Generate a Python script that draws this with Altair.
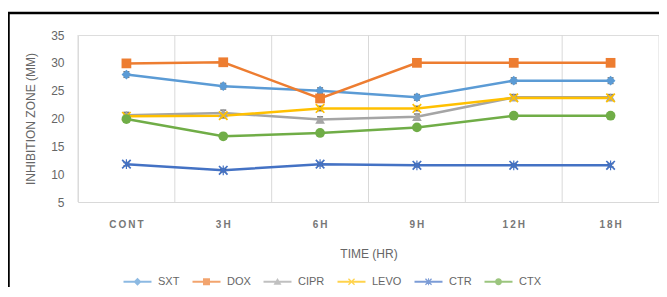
import altair as alt
import pandas as pd

times = ["CONT", "3H", "6H", "9H", "12H", "18H"]
series_names = ["SXT", "DOX", "CIPR", "LEVO", "CTR", "CTX"]
sxt = [27.9, 25.8, 25.0, 23.8, 26.8, 26.8]
dox = [29.9, 30.1, 23.6, 30.0, 30.0, 30.0]
cipr = [20.6, 21.0, 19.8, 20.3, 23.8, 23.8]
levo = [20.4, 20.5, 21.8, 21.8, 23.7, 23.7]
ctr = [11.8, 10.7, 11.8, 11.6, 11.6, 11.6]
ctx = [19.9, 16.8, 17.4, 18.4, 20.5, 20.5]
errors = [0.5, 0.6, 0.5, 0.4, 0.3, 0.3]

colors = ["#5B9BD5", "#ED7D31", "#A5A5A5", "#FFC000", "#4472C4", "#70AD47"]

# plot markers (unit coordinates)
X_PATH = "M-0.75,-1L0,-0.25L0.75,-1L1,-0.75L0.25,0L1,0.75L0.75,1L0,0.25L-0.75,1L-1,0.75L-0.25,0L-1,-0.75Z"
AST_PATH = X_PATH + "M-0.12,-1L0.12,-1L0.12,1L-0.12,1Z"
shapes = ["diamond", "square", "triangle-up", X_PATH, AST_PATH, "circle"]

# legend symbols: short line segment with a marker in the middle
SEG = "M-3,-0.22L3,-0.22L3,0.22L-3,0.22Z"
LX = ("M-0.56,-0.75L0,-0.19L0.56,-0.75L0.75,-0.56L0.19,0L0.75,0.56L0.56,0.75"
      "L0,0.19L-0.56,0.75L-0.75,0.56L-0.19,0L-0.75,-0.56Z")
legend_shapes = [
    SEG + "M0,-0.85L0.85,0L0,0.85L-0.85,0Z",
    SEG + "M-0.75,-0.75L0.75,-0.75L0.75,0.75L-0.75,0.75Z",
    SEG + "M0,-0.8L0.85,0.65L-0.85,0.65Z",
    SEG + LX,
    SEG + LX + "M-0.1,-0.75L0.1,-0.75L0.1,0.75L-0.1,0.75Z",
    SEG + "M-0.75,0A0.75,0.75 0 1,1 0.75,0A0.75,0.75 0 1,1 -0.75,0Z",
]

values = [sxt, dox, cipr, levo, ctr, ctx]
rows = []
for name, vals, err in zip(series_names, values, errors):
    for t, v in zip(times, vals):
        rows.append({"time": t, "series": name, "value": v,
                     "lo": v - err, "hi": v + err})
df = pd.DataFrame(rows)
legend_df = pd.DataFrame({"legend_name": series_names})

W, H = 581, 167
FONT = "Liberation Sans Narrow, Liberation Sans, Arial, sans-serif"
GREY = "#666666"

x_axis = alt.Axis(title="TIME (HR)", labelAngle=0, ticks=False, grid=False,
                  domainColor="#D9D9D9", labelColor="#777777", labelFontSize=10,
                  labelFontWeight="bold", labelPadding=17, labelOverlap=False,
                  labelExpr="join(split(datum.label, ''), '\u2009')",
                  titleColor=GREY, titleFontSize=12, titleFontWeight="normal",
                  titleY=51, titleBaseline="middle")
y_axis = alt.Axis(title="INHIBITION ZONE (MM)", values=[5, 10, 15, 20, 25, 30, 35],
                  domain=False, ticks=False, grid=False, labelColor=GREY,
                  labelFontSize=12, labelPadding=14, labelOverlap=False,
                  titleColor=GREY, titleFontSize=12, titleFontWeight="normal",
                  titleX=-48, titleY=H / 2, titleBaseline="middle", titleAngle=-90)
x_scale = alt.Scale(domain=times, paddingInner=0, paddingOuter=0)
y_scale = alt.Scale(domain=[5, 35], nice=False)
c_scale = alt.Scale(domain=series_names, range=colors)
s_scale = alt.Scale(domain=series_names, range=shapes)


def X(**kw):
    return alt.X("time:N", sort=times, scale=x_scale, axis=x_axis, **kw)


base = alt.Chart(df)

lines = base.mark_line(strokeWidth=2.5).encode(
    x=X(), y=alt.Y("value:Q", scale=y_scale, axis=y_axis),
    color=alt.Color("series:N", scale=c_scale, legend=None))

grid = alt.Chart(pd.DataFrame({"time": times})).mark_rule(color="#D9D9D9", strokeWidth=1).encode(
    x=X(bandPosition=0), y=alt.value(0), y2=alt.value(H))
right_edge = alt.Chart(pd.DataFrame({"a": [0]})).mark_rule(color="#D9D9D9", strokeWidth=1).encode(
    x=alt.value(W), y=alt.value(0), y2=alt.value(H))

err_rule = base.mark_rule(color="#404040", strokeWidth=1).encode(
    x=X(), y=alt.Y("lo:Q", scale=y_scale, axis=y_axis), y2="hi:Q")
err_lo = base.mark_tick(color="#404040", size=6, thickness=1.5).encode(
    x=X(), y=alt.Y("lo:Q", scale=y_scale, axis=y_axis))
err_hi = base.mark_tick(color="#404040", size=6, thickness=1.5).encode(
    x=X(), y=alt.Y("hi:Q", scale=y_scale, axis=y_axis))

points = base.mark_point(filled=True, opacity=1, size=95).encode(
    x=X(), y=alt.Y("value:Q", scale=y_scale, axis=y_axis),
    color=alt.Color("series:N", scale=c_scale, legend=None),
    shape=alt.Shape("series:N", scale=s_scale, legend=None))

legend = alt.Legend(title=None, orient="none", direction="horizontal",
                    legendX=54, legendY=241,
                    labelColor=GREY, labelFontSize=11,
                    labelFont=FONT, symbolSize=87, labelOffset=15, columnPadding=12)
legend_layer = alt.Chart(legend_df).mark_point(filled=True, size=87).encode(
    x=alt.value(-2000), y=alt.value(-2000),
    color=alt.Color("legend_name:N", scale=alt.Scale(domain=series_names, range=colors),
                    legend=legend),
    shape=alt.Shape("legend_name:N", scale=alt.Scale(domain=series_names, range=legend_shapes),
                    legend=legend))

frame_top = alt.Chart(pd.DataFrame({"a": [0]})).mark_rule(color="#000000", strokeWidth=2.5).encode(
    x=alt.value(-75), x2=alt.value(W + 10), y=alt.value(-22))
frame_left = alt.Chart(pd.DataFrame({"a": [0]})).mark_rule(color="#000000", strokeWidth=2.5).encode(
    x=alt.value(-69.5), y=alt.value(-23), y2=alt.value(300))

chart = alt.layer(grid, right_edge, lines, err_rule, err_lo, err_hi, points,
                  legend_layer, frame_top, frame_left).resolve_scale(
    color="independent", shape="independent"
).properties(
    width=W, height=H,
    autosize=alt.AutoSizeParams(type="none"),
    padding={"left": 70, "top": 27, "right": 0, "bottom": 85},
).configure_view(stroke=None).configure(font=FONT).configure_axis(labelOverlap=False)

chart.save("out.html", embed_options={"renderer": "svg", "actions": False})
